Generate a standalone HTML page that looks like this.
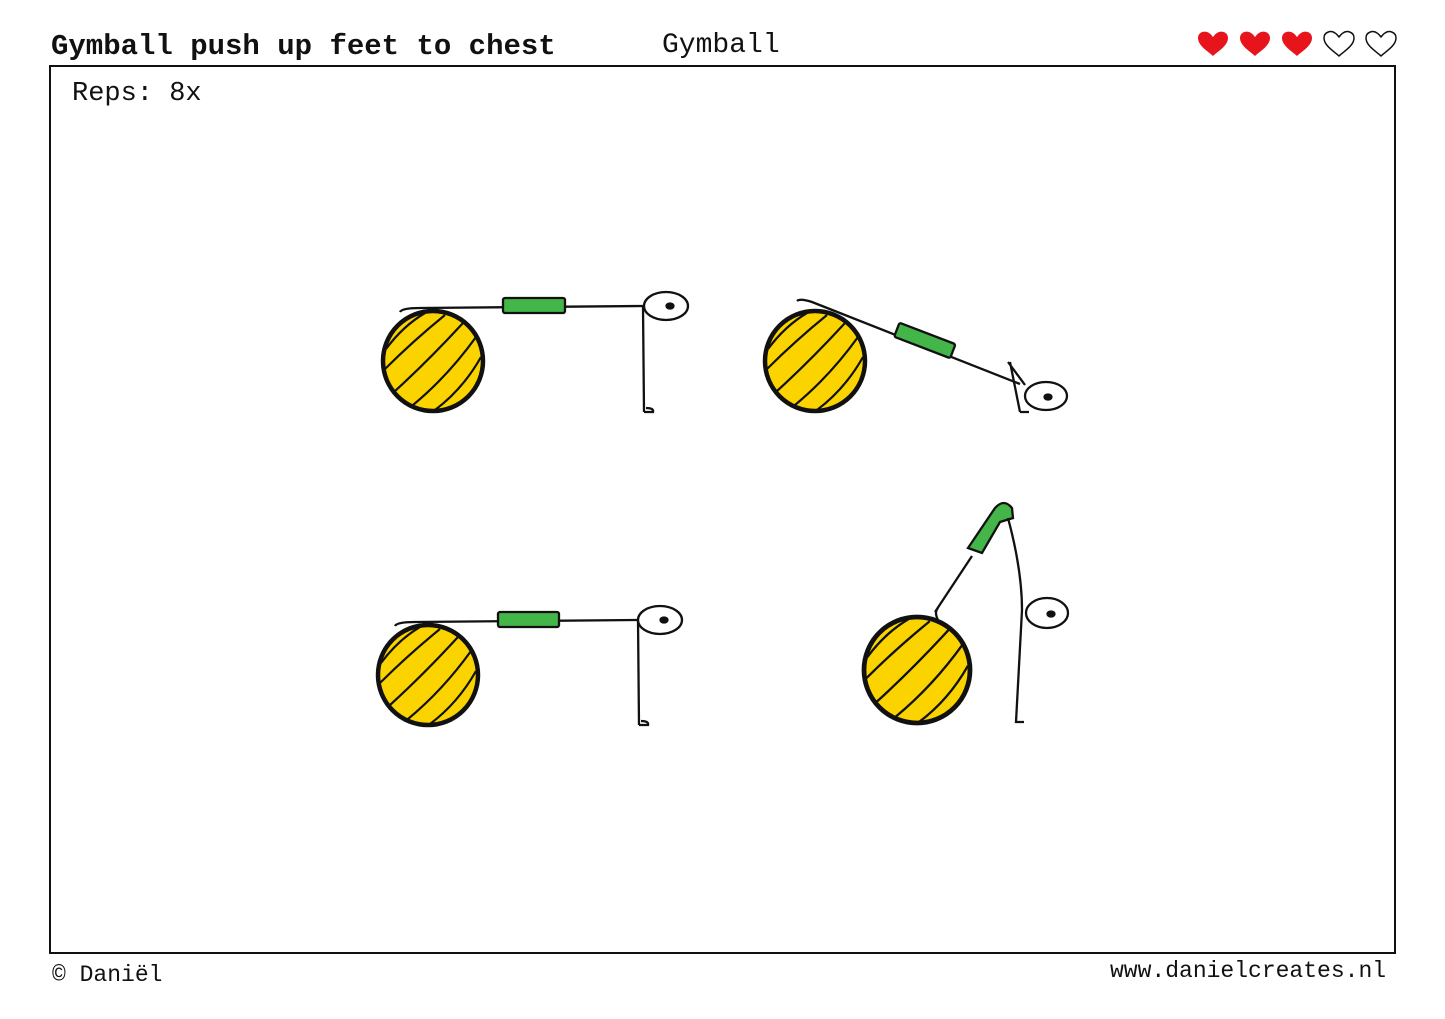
<!DOCTYPE html>
<html><head><meta charset="utf-8"><style>
html,body{margin:0;padding:0;background:#fff;}
body{width:1445px;height:1019px;overflow:hidden;position:relative;font-family:"Liberation Mono",monospace;}
.t{position:absolute;white-space:nowrap;color:#111;}
</style></head><body>
<div class="t" style="left:51px;top:30px;font-size:29px;font-weight:bold;">Gymball push up feet to chest</div>
<div class="t" style="left:662px;top:30px;font-size:28px;">Gymball</div>
<div class="t" style="left:72px;top:79px;font-size:27px;">Reps: 8x</div>
<div class="t" style="left:52px;top:962px;font-size:23px;">© Daniël</div>
<div class="t" style="left:1110px;top:958px;font-size:23px;">www.danielcreates.nl</div>
<svg width="1445" height="1019" style="position:absolute;left:0;top:0" xmlns="http://www.w3.org/2000/svg">
<defs>
<g id="ball">
<circle cx="0" cy="0" r="50" fill="#fbd400" stroke="#111" stroke-width="4.5"/>
<g fill="none" stroke="#111" stroke-width="2.2">
<path d="M-47,-12 Q-30,-35 -8,-48"/>
<path d="M-48,8 Q-20,-20 12,-46"/>
<path d="M-38,30 Q-5,0 30,-38"/>
<path d="M-20,44 Q15,15 43,-24"/>
<path d="M2,49 Q30,28 48,-4"/>
</g>
</g>
<path id="heart" d="M0,10 C-4,6 -15,0 -15,-8 C-15,-14 -8,-16 -4,-13 C-2,-12 -1,-10 0,-9 C1,-10 2,-12 4,-13 C8,-16 15,-14 15,-8 C15,0 4,6 0,10 Z"/>
</defs>
<rect x="50" y="66" width="1345" height="887" fill="none" stroke="#111" stroke-width="2"/>
<g transform="translate(1213,46)"><use href="#heart" fill="#e8141c"/></g>
<g transform="translate(1255,46)"><use href="#heart" fill="#e8141c"/></g>
<g transform="translate(1297,46)"><use href="#heart" fill="#e8141c"/></g>
<g transform="translate(1339,46)"><use href="#heart" fill="none" stroke="#111" stroke-width="1.5"/></g>
<g transform="translate(1381,46)"><use href="#heart" fill="none" stroke="#111" stroke-width="1.5"/></g>
<g stroke="#111" stroke-width="2.3" fill="none">
<path d="M400,312 Q402,308 420,308 L643,306"/>
<rect x="503" y="298" width="62" height="15" rx="2" fill="#43b549"/>
<line x1="643" y1="306" x2="644" y2="412"/>
<path d="M644,412 L653,412 Q654,408 646,408"/>
<ellipse cx="666" cy="306" rx="22" ry="14" fill="#fff"/>
<ellipse cx="670" cy="306" rx="3.5" ry="2.5" fill="#111"/>
<path d="M797,301 Q800,298 812,302 L1020,384"/>
<rect x="895" y="333" width="60" height="15" rx="2" fill="#43b549" transform="rotate(21 925 340)"/>
<path d="M1010,362 L1020,412 M1008,362 L1025,385 M1020,412 L1029,412"/>
<ellipse cx="1046" cy="396" rx="21" ry="14" fill="#fff"/>
<ellipse cx="1048" cy="397" rx="3.5" ry="2.5" fill="#111"/>
<path d="M395,626 Q397,622 415,622 L638,620"/>
<rect x="498" y="612" width="61" height="15" rx="2" fill="#43b549"/>
<line x1="638" y1="620" x2="639" y2="725"/>
<path d="M639,725 L648,725 Q649,721 641,721"/>
<ellipse cx="660" cy="620" rx="22" ry="14" fill="#fff"/>
<ellipse cx="664" cy="620" rx="3.5" ry="2.5" fill="#111"/>
<path d="M935,612 L972,556 M938,620 Q934,612 938,608"/>
<path d="M968,548 L995,508 Q1004,498 1012,508 L1013,518 L1000,522 L982,553 Z" fill="#43b549"/>
<path d="M1008,518 Q1022,570 1022,610 L1016,722 L1024,722"/>
<ellipse cx="1047" cy="613" rx="21" ry="15" fill="#fff"/>
<ellipse cx="1051" cy="614" rx="3.5" ry="2.5" fill="#111"/>
</g>
<use href="#ball" x="433" y="361"/>
<use href="#ball" x="815" y="361"/>
<use href="#ball" x="428" y="675"/>
<g transform="translate(917,670) scale(1.06)"><use href="#ball"/></g>
</svg>
</body></html>
